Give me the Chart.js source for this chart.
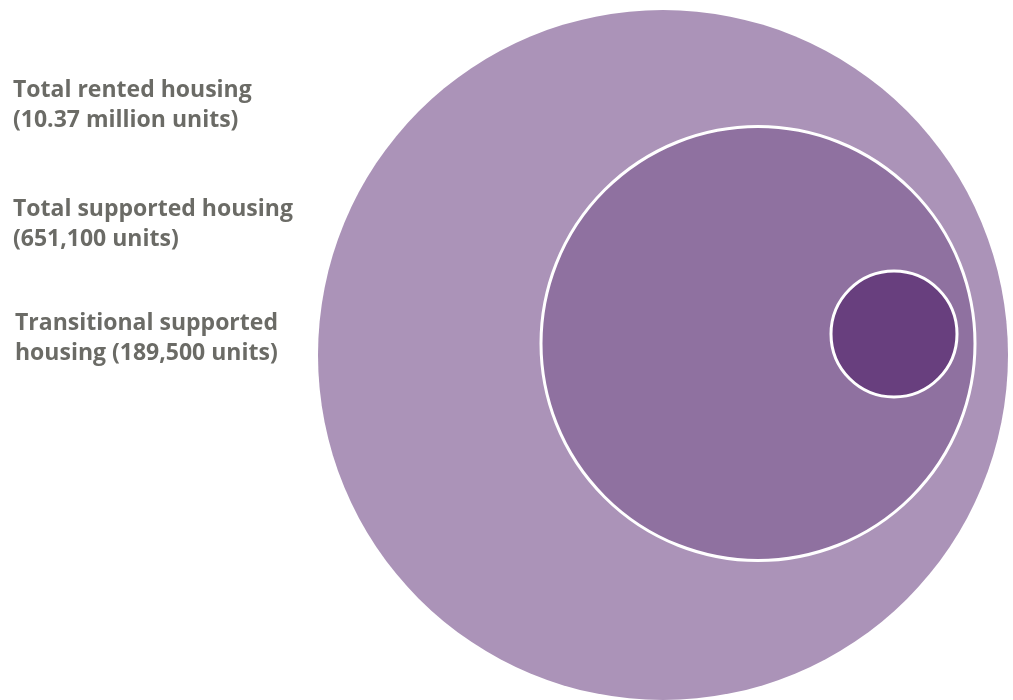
<!DOCTYPE html>
<html>
<head>
<meta charset="utf-8">
<script src="https://cdn.jsdelivr.net/npm/chart.js@4/dist/chart.umd.min.js"></script>
<style>
  html, body { margin: 0; padding: 0; background: #ffffff; }
  #wrap { position: relative; width: 1013px; height: 700px; overflow: hidden; }
  #chart { position: absolute; left: 0; top: 0; }
  .lbl { position: absolute; font-family: "Open Sans", "Noto Sans", sans-serif; font-weight: 700; font-size: 23px; line-height: 30px; color: #6b6b66; white-space: nowrap; }
</style>
</head>
<body>
<div id="wrap">
  <canvas id="chart" width="1013" height="700"></canvas>
  <div class="lbl" id="l0" style="left:13px; top:73px;"></div>
  <div class="lbl" id="l1" style="left:13px; top:192px;"></div>
  <div class="lbl" id="l2" style="left:15px; top:306px;"></div>
</div>
<script>
// Data
const categories = ["Total rented housing", "Total supported housing", "Transitional supported housing"];
const labelLines = [
  ["Total rented housing", "(10.37 million units)"],
  ["Total supported housing", "(651,100 units)"],
  ["Transitional supported", "housing (189,500 units)"]
];
const units = [10370000, 651100, 189500];
const bubbleX = [663, 758, 894];
const bubbleY = [355, 343.5, 334];
const bubbleR = [345, 217, 63];
const colors = ["#ab93b8", "#8f71a0", "#683f7e"];

labelLines.forEach((lines, i) => {
  document.getElementById('l' + i).innerHTML = lines.join('<br>');
});

const datasets = categories.map((c, i) => ({
  label: c,
  data: [{ x: bubbleX[i], y: bubbleY[i], r: bubbleR[i], units: units[i] }],
  backgroundColor: colors[i],
  borderColor: i === 0 ? colors[i] : '#ffffff',
  borderWidth: i === 0 ? 0 : 3,
  hoverRadius: 0,
  hoverBorderWidth: i === 0 ? 0 : 3,
  clip: false,
  order: categories.length - i
}));

new Chart(document.getElementById('chart'), {
  type: 'bubble',
  data: { datasets },
  options: {
    responsive: false,
    animation: false,
    events: [],
    layout: { padding: 0, autoPadding: false },
    plugins: { legend: { display: false }, tooltip: { enabled: false } },
    scales: {
      x: { type: 'linear', min: 0, max: 1013, display: false },
      y: { type: 'linear', min: 0, max: 700, reverse: true, display: false }
    }
  }
});
</script>
</body>
</html>
